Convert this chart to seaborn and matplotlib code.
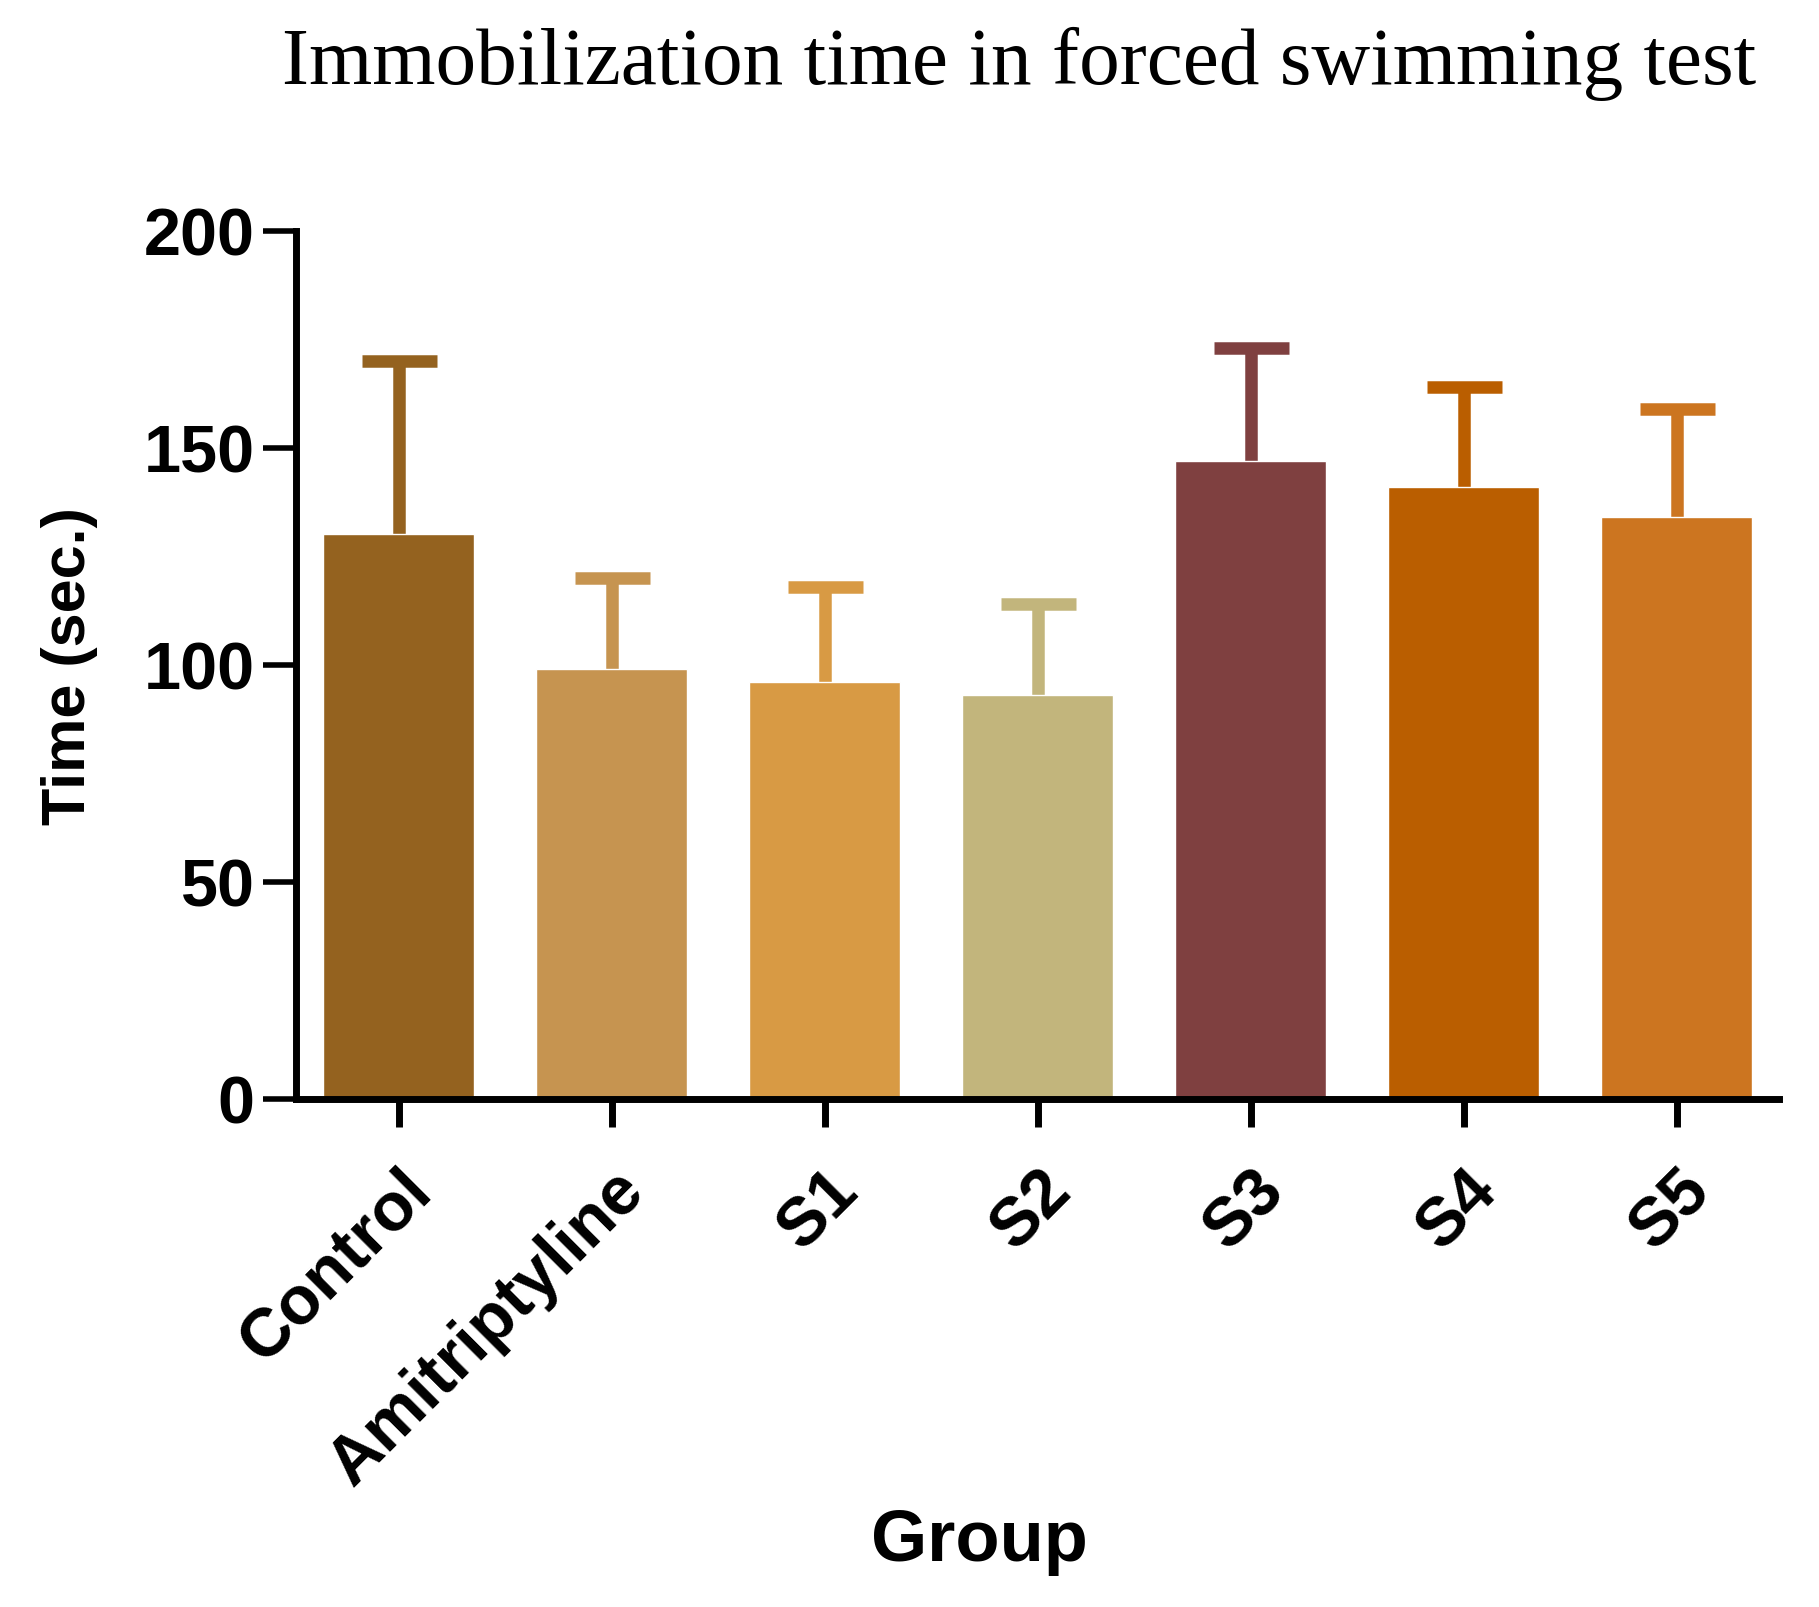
import numpy as np
import pandas as pd
import matplotlib
matplotlib.use('Agg')
import matplotlib.pyplot as plt
import seaborn as sns

# data
groups = ['Control', 'Amitriptyline', 'S1', 'S2', 'S3', 'S4', 'S5']
means = [130, 99, 96, 93, 147, 141, 134]
upper_err = [40, 21, 22, 21, 26, 23, 25]
colors = ['#94621F', '#C69450', '#D89A44', '#C2B57C', '#7F4040', '#BA5E00', '#CC7520']

df = pd.DataFrame({'group': groups, 'time': means})

sns.set_style('ticks')
plt.rcParams['font.family'] = ['Liberation Sans', 'DejaVu Sans']
plt.rcParams['text.color'] = 'black'
plt.rcParams['axes.labelcolor'] = 'black'
plt.rcParams['xtick.color'] = 'black'
plt.rcParams['ytick.color'] = 'black'

fig = plt.figure(figsize=(18.19, 16.08), dpi=100)
ax = fig.add_axes([0.163, 0.316, 0.815, 0.54])

sns.barplot(data=df, x='group', y='time', hue='group', palette=colors,
            width=0.71, legend=False, ax=ax, saturation=1, errorbar=None, zorder=2)

# upper-only error bars: stem from bar top, cap drawn as a marker
xpos = np.arange(len(groups))
for x, m, e, c in zip(xpos, means, upper_err, colors):
    ax.errorbar(x, m, yerr=[[0], [e]], fmt='none', ecolor=c,
                elinewidth=9, capsize=0, zorder=1)
    ax.plot(x, m + e, marker='_', markersize=54, mew=9, color=c, zorder=1)

ax.set_ylim(0, 200)
ax.set_xlim(-0.48, len(groups) - 0.52)
ax.set_yticks([0, 50, 100, 150, 200])

sns.despine(ax=ax)
for side in ['left', 'bottom']:
    ax.spines[side].set_linewidth(5)
    ax.spines[side].set_color('black')

ax.tick_params(axis='y', length=24, width=4, labelsize=48, pad=6)
ax.tick_params(axis='x', length=20, width=5, labelsize=49, pad=22)
for lab in ax.get_yticklabels():
    lab.set_fontweight('bold')
for lab in ax.get_xticklabels():
    lab.set_fontweight('bold')
    lab.set_rotation(45)
    lab.set_ha('right')
    lab.set_rotation_mode('anchor')

ax.set_xlabel('Group', fontsize=52, fontweight='bold')
ax.xaxis.set_label_coords(0.461, -0.47)
ax.set_ylabel('Time (sec.)', fontsize=44, fontweight='bold')
ax.yaxis.set_label_coords(-0.134, 0.5)

fig.text(0.56, 0.960, 'Immobilization time in forced swimming test',
         ha='center', va='center', fontsize=58.5, family='Liberation Serif')

fig.savefig('out.png', dpi=100)
